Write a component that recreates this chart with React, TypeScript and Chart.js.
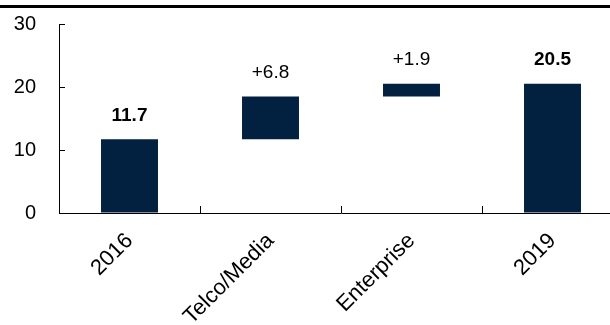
import React, { useEffect, useRef } from 'react';
import { Chart, registerables } from 'chart.js';

Chart.register(...registerables);

const categories = ['2016', 'Telco/Media', 'Enterprise', '2019'];
const barStart = [0, 11.7, 18.5, 0];
const barEnd = [11.7, 18.5, 20.5, 20.5];
const valueLabels = ['11.7', '+6.8', '+1.9', '20.5'];
const labelBold = [true, false, false, true];
const yTicks = [0, 10, 20, 30];

const FONT = "'Liberation Sans', Arial, sans-serif";
const BAR_COLOR = '#02203f';

const annotatePlugin = {
  id: 'annotate',
  afterDatasetsDraw(chart: any) {
    const ctx = chart.ctx;
    const meta = chart.getDatasetMeta(0);
    ctx.save();
    ctx.fillStyle = '#000';
    ctx.textAlign = 'center';
    ctx.textBaseline = 'middle';
    meta.data.forEach((el: any, i: number) => {
      ctx.font = `${labelBold[i] ? 'bold ' : ''}19px ${FONT}`;
      ctx.fillText(valueLabels[i], el.x, el.y - 24);
    });
    ctx.restore();
  },
  afterDraw(chart: any) {
    const ctx = chart.ctx;
    const { left, bottom } = chart.chartArea;
    const xs = chart.scales.x;
    const ys = chart.scales.y;
    ctx.save();
    ctx.strokeStyle = '#000';
    ctx.lineWidth = 1;
    ctx.beginPath();
    yTicks.forEach((v) => {
      if (v === 0) return;
      const y = Math.round(ys.getPixelForValue(v)) + 0.5;
      ctx.moveTo(left, y);
      ctx.lineTo(left + 6, y);
    });
    for (let i = 1; i < categories.length; i++) {
      const x = Math.round((xs.getPixelForValue(i - 1) + xs.getPixelForValue(i)) / 2) + 0.5;
      ctx.moveTo(x, bottom);
      ctx.lineTo(x, bottom - 7);
    }
    ctx.stroke();
    ctx.restore();
  },
};

export default function App() {
  const ref = useRef<HTMLCanvasElement>(null);
  useEffect(() => {
    if (!ref.current) return;
    const chart = new Chart(ref.current, {
      type: 'bar',
      data: {
        labels: categories,
        datasets: [
          {
            data: barStart.map((s, i) => [s, barEnd[i]]) as any,
            backgroundColor: BAR_COLOR,
            borderWidth: 0,
            categoryPercentage: 1,
            barPercentage: 0.404,
          },
        ],
      },
      options: {
        responsive: false,
        animation: false,
        devicePixelRatio: 1,
        layout: { padding: { top: 24, right: 1, left: 0, bottom: 0 } },
        plugins: { legend: { display: false }, tooltip: { enabled: false } },
        scales: {
          x: {
            grid: { display: false, drawTicks: false },
            border: { display: true, color: '#000', width: 1 },
            ticks: {
              color: '#000',
              font: { family: FONT, size: 22 },
              maxRotation: 45,
              minRotation: 45,
              padding: 15,
              autoSkip: false,
            },
            afterFit: (s: any) => {
              s.height = 112;
            },
          },
          y: {
            min: 0,
            max: 30,
            grid: {
              display: true,
              drawOnChartArea: false,
              drawTicks: true,
              tickLength: 23,
              tickColor: 'rgba(0,0,0,0)',
            },
            border: { display: true, color: '#000', width: 1 },
            ticks: {
              stepSize: 10,
              color: '#000',
              font: { family: FONT, size: 20 },
              padding: 0,
            },
            afterFit: (s: any) => {
              s.width = 59;
            },
          },
        },
      },
      plugins: [annotatePlugin],
    });
    return () => chart.destroy();
  }, []);

  return (
    <div
      style={{
        position: 'fixed',
        left: 0,
        top: 0,
        width: 610,
        height: 325,
        overflow: 'hidden',
        background: '#fff',
      }}
    >
      <div style={{ position: 'absolute', left: 0, top: 5, width: 610, height: 3, background: '#000' }} />
      <canvas ref={ref} width={624} height={325} style={{ position: 'absolute', left: 0, top: 0 }} />
    </div>
  );
}
